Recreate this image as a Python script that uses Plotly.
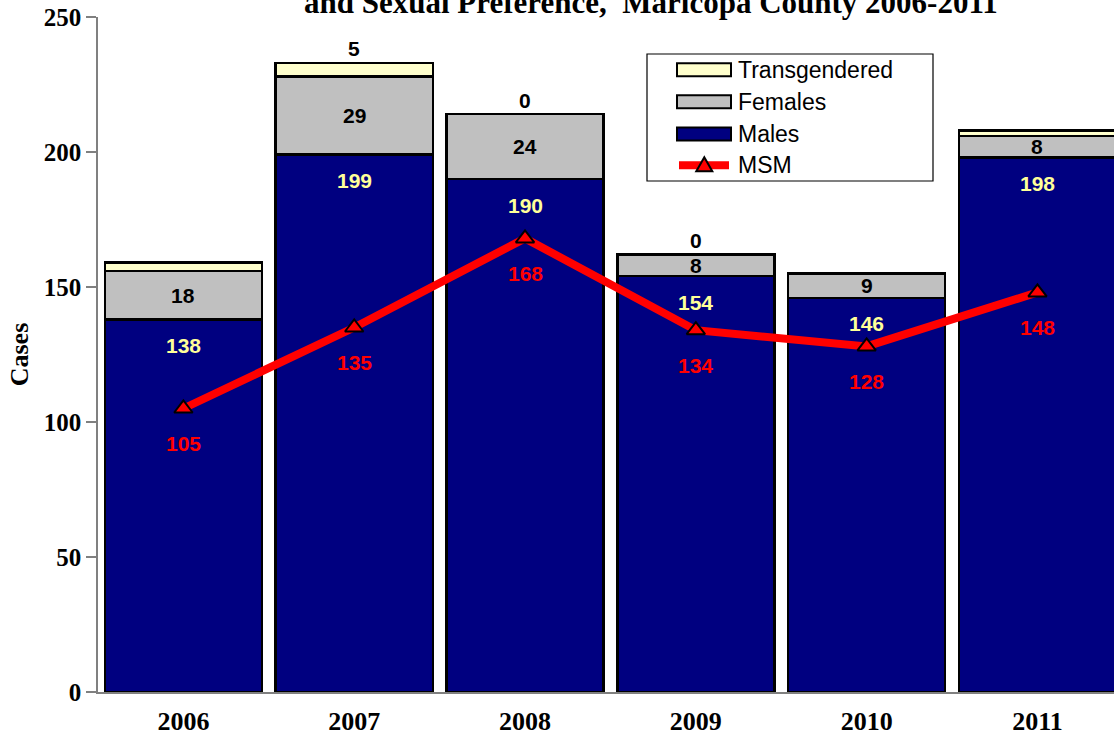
import plotly.graph_objects as go

# Case counts by year
years = ["2006", "2007", "2008", "2009", "2010", "2011"]
males = [138, 199, 190, 154, 146, 198]
females = [18, 29, 24, 8, 9, 8]
transgendered = [3, 5, 0, 0, 0, 2]
trans_labeled = [False, True, True, True, False, False]
msm = [105, 135, 168, 134, 128, 148]

y_ticks = [0, 50, 100, 150, 200, 250]

NAVY = "#000080"
GREY = "#C0C0C0"
CREAM = "#FFFFCC"
RED = "#FF0000"
LABEL_YELLOW = "#FFFF99"

SERIF = "Liberation Serif, Times New Roman, serif"
SANS = "Liberation Sans, Arial, sans-serif"

bar_line = dict(color="black", width=2.5)

fig = go.Figure()
fig.add_trace(go.Bar(name="Males", x=years, y=males,
                     marker=dict(color=NAVY, line=bar_line)))
fig.add_trace(go.Bar(name="Females", x=years, y=females,
                     marker=dict(color=GREY, line=bar_line)))
fig.add_trace(go.Bar(name="Transgendered", x=years, y=transgendered,
                     marker=dict(color=CREAM, line=bar_line)))
fig.add_trace(go.Scatter(name="MSM", x=years, y=msm, mode="lines+markers",
                         line=dict(color=RED, width=8),
                         marker=dict(symbol="triangle-up", size=16, color=RED,
                                     line=dict(color="black", width=2))))

label_font = dict(family=SANS, size=21)
annotations = []
for i, yr in enumerate(years):
    m, f, t = males[i], females[i], transgendered[i]
    # category position by index (year strings would be read as numbers)
    xi = i
    # Males: just under the top of the navy segment
    annotations.append(dict(x=xi, y=m, text=f"<b>{m}</b>", showarrow=False,
                            yshift=-26, font=dict(label_font, color=LABEL_YELLOW)))
    # Females: centred in the grey segment
    annotations.append(dict(x=xi, y=m + f / 2, text=f"<b>{f}</b>", showarrow=False,
                            font=dict(label_font, color="black")))
    # Transgendered: above the stack
    if trans_labeled[i]:
        annotations.append(dict(x=xi, y=m + f + t, text=f"<b>{t}</b>", showarrow=False,
                                yshift=14, font=dict(label_font, color="black")))
    # MSM: below the marker
    annotations.append(dict(x=xi, y=msm[i], text=f"<b>{msm[i]}</b>", showarrow=False,
                            yshift=-35, font=dict(label_font, color=RED)))

# Title line (top of the figure)
annotations.append(dict(xref="paper", yref="paper", x=0.544, y=1.022,
                        xanchor="center", yanchor="middle", showarrow=False,
                        text="<b>and Sexual Preference,  Maricopa County 2006-2011</b>",
                        font=dict(family=SERIF, size=31, color="black")))

# Hand-built legend box
W, H = 1114, 738
ML, MR, MT, MB = 98, 0, 17, 46
PW, PH = W - ML - MR, H - MT - MB


def px(xp):
    return (xp - ML) / PW


def py(yp):
    return (H - MB - yp) / PH


shapes = [dict(type="rect", xref="paper", yref="paper",
               x0=px(647), x1=px(933), y0=py(181), y1=py(54),
               line=dict(color="black", width=1.2), fillcolor="white", layer="above")]
legend_rows = [("Transgendered", CREAM, 69.7), ("Females", GREY, 101.7),
               ("Males", NAVY, 134.0)]
for name, color, yc in legend_rows:
    shapes.append(dict(type="rect", xref="paper", yref="paper",
                       x0=px(677), x1=px(731), y0=py(yc + 6.5), y1=py(yc - 6.5),
                       line=dict(color="black", width=2), fillcolor=color, layer="above"))
    annotations.append(dict(xref="paper", yref="paper", x=px(736), y=py(yc),
                            xanchor="left", yanchor="middle", showarrow=False, text=name,
                            font=dict(family=SANS, size=23, color="black")))
msm_y = 165.3
shapes.append(dict(type="line", xref="paper", yref="paper",
                   x0=px(679), x1=px(729), y0=py(msm_y), y1=py(msm_y),
                   line=dict(color=RED, width=8), layer="above"))
shapes.append(dict(type="path", xref="paper", yref="paper",
                   xsizemode="pixel", ysizemode="pixel",
                   xanchor=px(704.3), yanchor=py(msm_y),
                   path="M -8,-6 L 8,-6 L 0,8 Z",
                   fillcolor=RED, line=dict(color="black", width=2), layer="above"))
annotations.append(dict(xref="paper", yref="paper", x=px(736), y=py(msm_y),
                        xanchor="left", yanchor="middle", showarrow=False, text="MSM",
                        font=dict(family=SANS, size=23, color="black")))

fig.update_layout(
    width=W, height=H,
    margin=dict(l=ML, r=MR, t=MT, b=MB, autoexpand=False),
    barmode="stack", bargap=0.08,
    plot_bgcolor="white", paper_bgcolor="white",
    showlegend=False,
    annotations=annotations,
    shapes=shapes,
    xaxis=dict(range=[-0.5, 5.448], showline=True, linecolor="#808080", linewidth=1.5,
               ticks="", showgrid=False, ticklabelstandoff=5, automargin=False,
               tickfont=dict(family=SERIF, size=26, color="black", weight="bold")),
    yaxis=dict(range=[0, 250], tickvals=y_ticks, showline=True, linecolor="#808080",
               linewidth=1.5, ticks="outside", ticklen=10, tickcolor="#808080",
               tickwidth=1.5, showgrid=False, zeroline=False, automargin=False,
               tickfont=dict(family=SERIF, size=25, color="black", weight="bold"),
               title=dict(text="<b>Cases</b>", standoff=8,
                          font=dict(family=SERIF, size=26, color="black"))),
)

fig.write_html("out.html")
